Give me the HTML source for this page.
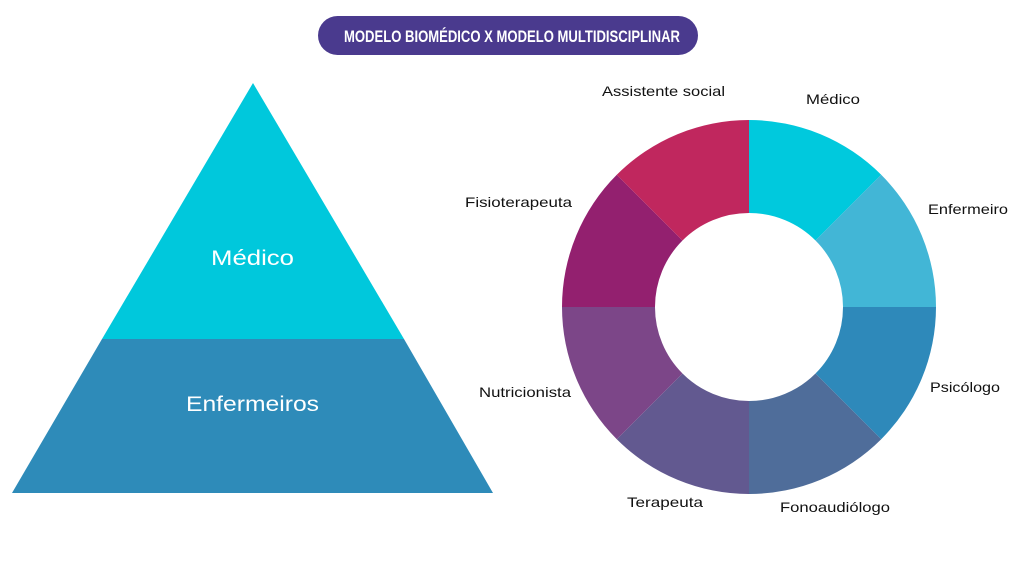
<!DOCTYPE html>
<html><head><meta charset="utf-8"><style>
html,body{margin:0;padding:0;background:#fff;}
svg{display:block;}
text{font-family:"Liberation Sans",sans-serif;}
</style></head><body>
<svg width="1024" height="576" viewBox="0 0 1024 576" xmlns="http://www.w3.org/2000/svg">
<rect width="1024" height="576" fill="#fff"/>
<rect x="318" y="16" width="380" height="39" rx="19.5" fill="#4a3a8e"/>
<text x="344" y="42" font-size="17" font-weight="bold" fill="#fff" textLength="336" lengthAdjust="spacingAndGlyphs" style="font-family:'Liberation Sans Narrow','Liberation Sans',sans-serif">MODELO BIOMÉDICO X MODELO MULTIDISCIPLINAR</text>

<polygon points="253,83 404,339 102,339" fill="#00c8dc"/>
<polygon points="102,339 404,339 493,493 12,493" fill="#2e8bb9"/>
<text x="211" y="265" font-size="21" fill="#fff" textLength="83" lengthAdjust="spacingAndGlyphs">Médico</text>
<text x="186" y="411" font-size="21" fill="#fff" textLength="133" lengthAdjust="spacingAndGlyphs">Enfermeiros</text>

<g>
<path d="M749,120 A187,187 0 0 1 881.2,174.8 L815.5,240.5 A94,94 0 0 0 749,213 Z" fill="#00c9dd"/>
<path d="M881.2,174.8 A187,187 0 0 1 936,307 L843,307 A94,94 0 0 0 815.5,240.5 Z" fill="#42b6d6"/>
<path d="M936,307 A187,187 0 0 1 881.2,439.2 L815.5,373.5 A94,94 0 0 0 843,307 Z" fill="#2e89ba"/>
<path d="M881.2,439.2 A187,187 0 0 1 749,494 L749,401 A94,94 0 0 0 815.5,373.5 Z" fill="#4f6d9a"/>
<path d="M749,494 A187,187 0 0 1 616.8,439.2 L682.5,373.5 A94,94 0 0 0 749,401 Z" fill="#625990"/>
<path d="M616.8,439.2 A187,187 0 0 1 562,307 L655,307 A94,94 0 0 0 682.5,373.5 Z" fill="#7c4688"/>
<path d="M562,307 A187,187 0 0 1 616.8,174.8 L682.5,240.5 A94,94 0 0 0 655,307 Z" fill="#93206f"/>
<path d="M616.8,174.8 A187,187 0 0 1 749,120 L749,213 A94,94 0 0 0 682.5,240.5 Z" fill="#c0275e"/>
</g>

<g font-size="14" fill="#111" lengthAdjust="spacingAndGlyphs">
<text x="806" y="104" textLength="54" lengthAdjust="spacingAndGlyphs">Médico</text>
<text x="928" y="214" textLength="80" lengthAdjust="spacingAndGlyphs">Enfermeiro</text>
<text x="930" y="392" textLength="70" lengthAdjust="spacingAndGlyphs">Psicólogo</text>
<text x="780" y="512" textLength="110" lengthAdjust="spacingAndGlyphs">Fonoaudiólogo</text>
<text x="627" y="507" textLength="76" lengthAdjust="spacingAndGlyphs">Terapeuta</text>
<text x="479" y="397" textLength="92" lengthAdjust="spacingAndGlyphs">Nutricionista</text>
<text x="465" y="207" textLength="107" lengthAdjust="spacingAndGlyphs">Fisioterapeuta</text>
<text x="602" y="96" textLength="123" lengthAdjust="spacingAndGlyphs">Assistente social</text>
</g>
</svg>
</body></html>
